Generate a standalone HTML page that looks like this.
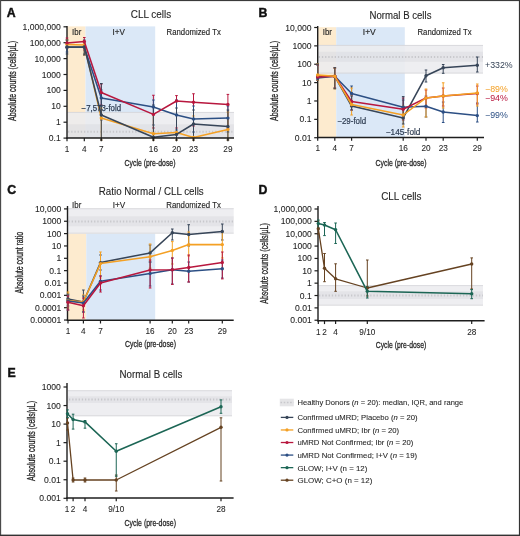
<!DOCTYPE html>
<html><head><meta charset="utf-8"><style>
html,body{margin:0;padding:0;background:#fff;width:520px;height:536px;overflow:hidden}
svg{display:block;will-change:transform}
text{font-family:"Liberation Sans", sans-serif}
</style></head><body>
<svg width="520" height="536" viewBox="0 0 520 536" font-family='"Liberation Sans", sans-serif'>
<rect x="0" y="0" width="520" height="536" fill="#ffffff" />
<rect x="67" y="26.4" width="18.5" height="111.6" fill="#fdebcf" />
<rect x="85.5" y="26.4" width="69.69999999999999" height="111.6" fill="#dbe8f7" />
<rect x="67" y="112" width="167" height="26" fill="rgba(236,236,239,0.88)" />
<rect x="67" y="124.3" width="167" height="13.200000000000003" fill="rgba(200,200,206,0.25)" />
<line x1="67" y1="112.4" x2="234" y2="112.4" stroke="rgba(190,190,196,0.55)" stroke-width="0.8" />
<line x1="67" y1="137.6" x2="234" y2="137.6" stroke="rgba(190,190,196,0.55)" stroke-width="0.8" />
<line x1="68" y1="131.8" x2="234" y2="131.8" stroke="#c8c8cc" stroke-width="2.0" stroke-dasharray="1.3 1.9"/>
<text x="76.7" y="35.3" font-size="8.6" text-anchor="middle" fill="#262626" stroke="#262626" stroke-width="0.15" font-weight="normal" textLength="9.2" lengthAdjust="spacingAndGlyphs" >Ibr</text>
<text x="118.7" y="35.2" font-size="9.0" text-anchor="middle" fill="#262626" stroke="#262626" stroke-width="0.15" font-weight="normal" textLength="12.4" lengthAdjust="spacingAndGlyphs" >I+V</text>
<text x="193.7" y="35.2" font-size="8.6" text-anchor="middle" fill="#262626" stroke="#262626" stroke-width="0.15" font-weight="normal" textLength="54.3" lengthAdjust="spacingAndGlyphs" >Randomized Tx</text>
<line x1="67" y1="26" x2="67" y2="138.7" stroke="#1e1e1e" stroke-width="1.4" />
<line x1="63.5" y1="26.8" x2="67" y2="26.8" stroke="#1e1e1e" stroke-width="1.2" />
<text x="60.8" y="29.8" font-size="8.6" text-anchor="end" fill="#262626" stroke="#262626" stroke-width="0.08" font-weight="normal" >1,000,000</text>
<line x1="63.5" y1="42.7" x2="67" y2="42.7" stroke="#1e1e1e" stroke-width="1.2" />
<text x="60.8" y="45.7" font-size="8.6" text-anchor="end" fill="#262626" stroke="#262626" stroke-width="0.08" font-weight="normal" >100,000</text>
<line x1="63.5" y1="58.6" x2="67" y2="58.6" stroke="#1e1e1e" stroke-width="1.2" />
<text x="60.8" y="61.6" font-size="8.6" text-anchor="end" fill="#262626" stroke="#262626" stroke-width="0.08" font-weight="normal" >10,000</text>
<line x1="63.5" y1="74.5" x2="67" y2="74.5" stroke="#1e1e1e" stroke-width="1.2" />
<text x="60.8" y="77.5" font-size="8.6" text-anchor="end" fill="#262626" stroke="#262626" stroke-width="0.08" font-weight="normal" >1000</text>
<line x1="63.5" y1="90.4" x2="67" y2="90.4" stroke="#1e1e1e" stroke-width="1.2" />
<text x="60.8" y="93.4" font-size="8.6" text-anchor="end" fill="#262626" stroke="#262626" stroke-width="0.08" font-weight="normal" >100</text>
<line x1="63.5" y1="106.3" x2="67" y2="106.3" stroke="#1e1e1e" stroke-width="1.2" />
<text x="60.8" y="109.3" font-size="8.6" text-anchor="end" fill="#262626" stroke="#262626" stroke-width="0.08" font-weight="normal" >10</text>
<line x1="63.5" y1="122.2" x2="67" y2="122.2" stroke="#1e1e1e" stroke-width="1.2" />
<text x="60.8" y="125.2" font-size="8.6" text-anchor="end" fill="#262626" stroke="#262626" stroke-width="0.08" font-weight="normal" >1</text>
<line x1="63.5" y1="138.1" x2="67" y2="138.1" stroke="#1e1e1e" stroke-width="1.2" />
<text x="60.8" y="141.1" font-size="8.6" text-anchor="end" fill="#262626" stroke="#262626" stroke-width="0.08" font-weight="normal" >0.1</text>
<line x1="67" y1="38" x2="67" y2="48" stroke="#b8173e" stroke-width="1.0" />
<line x1="65.7" y1="38" x2="68.3" y2="38" stroke="#b8173e" stroke-width="1.0" />
<line x1="65.7" y1="48" x2="68.3" y2="48" stroke="#b8173e" stroke-width="1.0" />
<line x1="84.3" y1="37.5" x2="84.3" y2="50" stroke="#b8173e" stroke-width="1.0" />
<line x1="83.0" y1="37.5" x2="85.6" y2="37.5" stroke="#b8173e" stroke-width="1.0" />
<line x1="83.0" y1="50" x2="85.6" y2="50" stroke="#b8173e" stroke-width="1.0" />
<line x1="101.3" y1="84" x2="101.3" y2="105" stroke="#b8173e" stroke-width="1.0" />
<line x1="100.0" y1="84" x2="102.6" y2="84" stroke="#b8173e" stroke-width="1.0" />
<line x1="100.0" y1="105" x2="102.6" y2="105" stroke="#b8173e" stroke-width="1.0" />
<line x1="153.4" y1="95.25" x2="153.4" y2="128" stroke="#b8173e" stroke-width="1.0" />
<line x1="152.1" y1="95.25" x2="154.70000000000002" y2="95.25" stroke="#b8173e" stroke-width="1.0" />
<line x1="152.1" y1="128" x2="154.70000000000002" y2="128" stroke="#b8173e" stroke-width="1.0" />
<line x1="176.5" y1="95.6" x2="176.5" y2="128" stroke="#b8173e" stroke-width="1.0" />
<line x1="175.2" y1="95.6" x2="177.8" y2="95.6" stroke="#b8173e" stroke-width="1.0" />
<line x1="175.2" y1="128" x2="177.8" y2="128" stroke="#b8173e" stroke-width="1.0" />
<line x1="193.5" y1="93.75" x2="193.5" y2="126" stroke="#b8173e" stroke-width="1.0" />
<line x1="192.2" y1="93.75" x2="194.8" y2="93.75" stroke="#b8173e" stroke-width="1.0" />
<line x1="192.2" y1="126" x2="194.8" y2="126" stroke="#b8173e" stroke-width="1.0" />
<line x1="227.9" y1="94.4" x2="227.9" y2="128" stroke="#b8173e" stroke-width="1.0" />
<line x1="226.6" y1="94.4" x2="229.20000000000002" y2="94.4" stroke="#b8173e" stroke-width="1.0" />
<line x1="226.6" y1="128" x2="229.20000000000002" y2="128" stroke="#b8173e" stroke-width="1.0" />
<line x1="67" y1="40" x2="67" y2="52" stroke="#2c4f84" stroke-width="1.0" />
<line x1="65.7" y1="40" x2="68.3" y2="40" stroke="#2c4f84" stroke-width="1.0" />
<line x1="65.7" y1="52" x2="68.3" y2="52" stroke="#2c4f84" stroke-width="1.0" />
<line x1="84.3" y1="40" x2="84.3" y2="54" stroke="#2c4f84" stroke-width="1.0" />
<line x1="83.0" y1="40" x2="85.6" y2="40" stroke="#2c4f84" stroke-width="1.0" />
<line x1="83.0" y1="54" x2="85.6" y2="54" stroke="#2c4f84" stroke-width="1.0" />
<line x1="101.3" y1="90" x2="101.3" y2="120" stroke="#2c4f84" stroke-width="1.0" />
<line x1="100.0" y1="90" x2="102.6" y2="90" stroke="#2c4f84" stroke-width="1.0" />
<line x1="100.0" y1="120" x2="102.6" y2="120" stroke="#2c4f84" stroke-width="1.0" />
<line x1="153.4" y1="100" x2="153.4" y2="125" stroke="#2c4f84" stroke-width="1.0" />
<line x1="152.1" y1="100" x2="154.70000000000002" y2="100" stroke="#2c4f84" stroke-width="1.0" />
<line x1="152.1" y1="125" x2="154.70000000000002" y2="125" stroke="#2c4f84" stroke-width="1.0" />
<line x1="176.5" y1="100" x2="176.5" y2="130" stroke="#2c4f84" stroke-width="1.0" />
<line x1="175.2" y1="100" x2="177.8" y2="100" stroke="#2c4f84" stroke-width="1.0" />
<line x1="175.2" y1="130" x2="177.8" y2="130" stroke="#2c4f84" stroke-width="1.0" />
<line x1="193.5" y1="106" x2="193.5" y2="132" stroke="#2c4f84" stroke-width="1.0" />
<line x1="192.2" y1="106" x2="194.8" y2="106" stroke="#2c4f84" stroke-width="1.0" />
<line x1="192.2" y1="132" x2="194.8" y2="132" stroke="#2c4f84" stroke-width="1.0" />
<line x1="227.9" y1="106" x2="227.9" y2="132" stroke="#2c4f84" stroke-width="1.0" />
<line x1="226.6" y1="106" x2="229.20000000000002" y2="106" stroke="#2c4f84" stroke-width="1.0" />
<line x1="226.6" y1="132" x2="229.20000000000002" y2="132" stroke="#2c4f84" stroke-width="1.0" />
<line x1="67" y1="40" x2="67" y2="48" stroke="#f4a024" stroke-width="1.0" />
<line x1="65.7" y1="40" x2="68.3" y2="40" stroke="#f4a024" stroke-width="1.0" />
<line x1="65.7" y1="48" x2="68.3" y2="48" stroke="#f4a024" stroke-width="1.0" />
<line x1="84.3" y1="44" x2="84.3" y2="55" stroke="#f4a024" stroke-width="1.0" />
<line x1="83.0" y1="44" x2="85.6" y2="44" stroke="#f4a024" stroke-width="1.0" />
<line x1="83.0" y1="55" x2="85.6" y2="55" stroke="#f4a024" stroke-width="1.0" />
<line x1="101.3" y1="108" x2="101.3" y2="140" stroke="#f4a024" stroke-width="1.0" />
<line x1="100.0" y1="108" x2="102.6" y2="108" stroke="#f4a024" stroke-width="1.0" />
<line x1="100.0" y1="140" x2="102.6" y2="140" stroke="#f4a024" stroke-width="1.0" />
<line x1="153.4" y1="114" x2="153.4" y2="140" stroke="#f4a024" stroke-width="1.0" />
<line x1="152.1" y1="114" x2="154.70000000000002" y2="114" stroke="#f4a024" stroke-width="1.0" />
<line x1="152.1" y1="140" x2="154.70000000000002" y2="140" stroke="#f4a024" stroke-width="1.0" />
<line x1="176.5" y1="114.6" x2="176.5" y2="140" stroke="#f4a024" stroke-width="1.0" />
<line x1="175.2" y1="114.6" x2="177.8" y2="114.6" stroke="#f4a024" stroke-width="1.0" />
<line x1="175.2" y1="140" x2="177.8" y2="140" stroke="#f4a024" stroke-width="1.0" />
<line x1="193.5" y1="116" x2="193.5" y2="140" stroke="#f4a024" stroke-width="1.0" />
<line x1="192.2" y1="116" x2="194.8" y2="116" stroke="#f4a024" stroke-width="1.0" />
<line x1="192.2" y1="140" x2="194.8" y2="140" stroke="#f4a024" stroke-width="1.0" />
<line x1="227.9" y1="112" x2="227.9" y2="140" stroke="#f4a024" stroke-width="1.0" />
<line x1="226.6" y1="112" x2="229.20000000000002" y2="112" stroke="#f4a024" stroke-width="1.0" />
<line x1="226.6" y1="140" x2="229.20000000000002" y2="140" stroke="#f4a024" stroke-width="1.0" />
<line x1="67" y1="40" x2="67" y2="54" stroke="#374558" stroke-width="1.0" />
<line x1="65.7" y1="40" x2="68.3" y2="40" stroke="#374558" stroke-width="1.0" />
<line x1="65.7" y1="54" x2="68.3" y2="54" stroke="#374558" stroke-width="1.0" />
<line x1="84.3" y1="42" x2="84.3" y2="55" stroke="#374558" stroke-width="1.0" />
<line x1="83.0" y1="42" x2="85.6" y2="42" stroke="#374558" stroke-width="1.0" />
<line x1="83.0" y1="55" x2="85.6" y2="55" stroke="#374558" stroke-width="1.0" />
<line x1="101.3" y1="83.5" x2="101.3" y2="140" stroke="#374558" stroke-width="1.0" />
<line x1="100.0" y1="83.5" x2="102.6" y2="83.5" stroke="#374558" stroke-width="1.0" />
<line x1="100.0" y1="140" x2="102.6" y2="140" stroke="#374558" stroke-width="1.0" />
<line x1="153.4" y1="105" x2="153.4" y2="140" stroke="#374558" stroke-width="1.0" />
<line x1="152.1" y1="105" x2="154.70000000000002" y2="105" stroke="#374558" stroke-width="1.0" />
<line x1="152.1" y1="140" x2="154.70000000000002" y2="140" stroke="#374558" stroke-width="1.0" />
<line x1="176.5" y1="108" x2="176.5" y2="140" stroke="#374558" stroke-width="1.0" />
<line x1="175.2" y1="108" x2="177.8" y2="108" stroke="#374558" stroke-width="1.0" />
<line x1="175.2" y1="140" x2="177.8" y2="140" stroke="#374558" stroke-width="1.0" />
<line x1="193.5" y1="110" x2="193.5" y2="140" stroke="#374558" stroke-width="1.0" />
<line x1="192.2" y1="110" x2="194.8" y2="110" stroke="#374558" stroke-width="1.0" />
<line x1="192.2" y1="140" x2="194.8" y2="140" stroke="#374558" stroke-width="1.0" />
<line x1="227.9" y1="110" x2="227.9" y2="140" stroke="#374558" stroke-width="1.0" />
<line x1="226.6" y1="110" x2="229.20000000000002" y2="110" stroke="#374558" stroke-width="1.0" />
<line x1="226.6" y1="140" x2="229.20000000000002" y2="140" stroke="#374558" stroke-width="1.0" />
<polyline points="67,44.4 84.3,45 101.3,118.1 153.4,133.75 176.5,132.5 193.5,137.5 227.9,129.4" fill="none" stroke="#f4a024" stroke-width="1.55" stroke-linejoin="round"/>
<circle cx="67" cy="44.4" r="1.7" fill="#f4a024"/>
<circle cx="84.3" cy="45" r="1.7" fill="#f4a024"/>
<circle cx="101.3" cy="118.1" r="1.7" fill="#f4a024"/>
<circle cx="153.4" cy="133.75" r="1.7" fill="#f4a024"/>
<circle cx="176.5" cy="132.5" r="1.7" fill="#f4a024"/>
<circle cx="193.5" cy="137.5" r="1.7" fill="#f4a024"/>
<circle cx="227.9" cy="129.4" r="1.7" fill="#f4a024"/>
<polyline points="67,47.2 84.3,47.2 101.3,97.9 153.4,106.9 176.5,115 193.5,119 227.9,118.1" fill="none" stroke="#2c4f84" stroke-width="1.55" stroke-linejoin="round"/>
<circle cx="67" cy="47.2" r="1.7" fill="#2c4f84"/>
<circle cx="84.3" cy="47.2" r="1.7" fill="#2c4f84"/>
<circle cx="101.3" cy="97.9" r="1.7" fill="#2c4f84"/>
<circle cx="153.4" cy="106.9" r="1.7" fill="#2c4f84"/>
<circle cx="176.5" cy="115" r="1.7" fill="#2c4f84"/>
<circle cx="193.5" cy="119" r="1.7" fill="#2c4f84"/>
<circle cx="227.9" cy="118.1" r="1.7" fill="#2c4f84"/>
<polyline points="67,46.9 84.3,46.9 101.3,115 153.4,137.3 176.5,134.4 193.5,124 227.9,126.5" fill="none" stroke="#374558" stroke-width="1.55" stroke-linejoin="round"/>
<circle cx="67" cy="46.9" r="1.7" fill="#374558"/>
<circle cx="84.3" cy="46.9" r="1.7" fill="#374558"/>
<circle cx="101.3" cy="115" r="1.7" fill="#374558"/>
<circle cx="153.4" cy="137.3" r="1.7" fill="#374558"/>
<circle cx="176.5" cy="134.4" r="1.7" fill="#374558"/>
<circle cx="193.5" cy="124" r="1.7" fill="#374558"/>
<circle cx="227.9" cy="126.5" r="1.7" fill="#374558"/>
<polyline points="67,42.9 84.3,41.5 101.3,92.5 153.4,114.4 176.5,101 193.5,102.25 227.9,104.4" fill="none" stroke="#b8173e" stroke-width="1.55" stroke-linejoin="round"/>
<circle cx="67" cy="42.9" r="1.7" fill="#b8173e"/>
<circle cx="84.3" cy="41.5" r="1.7" fill="#b8173e"/>
<circle cx="101.3" cy="92.5" r="1.7" fill="#b8173e"/>
<circle cx="153.4" cy="114.4" r="1.7" fill="#b8173e"/>
<circle cx="176.5" cy="101" r="1.7" fill="#b8173e"/>
<circle cx="193.5" cy="102.25" r="1.7" fill="#b8173e"/>
<circle cx="227.9" cy="104.4" r="1.7" fill="#b8173e"/>
<line x1="66.3" y1="138" x2="234" y2="138" stroke="#1e1e1e" stroke-width="1.4" />
<line x1="67" y1="138" x2="67" y2="141.3" stroke="#1e1e1e" stroke-width="1.2" />
<text x="67" y="151.9" font-size="8.2" text-anchor="middle" fill="#262626" stroke="#262626" stroke-width="0.08" font-weight="normal" >1</text>
<line x1="84.3" y1="138" x2="84.3" y2="141.3" stroke="#1e1e1e" stroke-width="1.2" />
<text x="84.3" y="151.9" font-size="8.2" text-anchor="middle" fill="#262626" stroke="#262626" stroke-width="0.08" font-weight="normal" >4</text>
<line x1="101.3" y1="138" x2="101.3" y2="141.3" stroke="#1e1e1e" stroke-width="1.2" />
<text x="101.3" y="151.9" font-size="8.2" text-anchor="middle" fill="#262626" stroke="#262626" stroke-width="0.08" font-weight="normal" >7</text>
<line x1="153.4" y1="138" x2="153.4" y2="141.3" stroke="#1e1e1e" stroke-width="1.2" />
<text x="153.4" y="151.9" font-size="8.2" text-anchor="middle" fill="#262626" stroke="#262626" stroke-width="0.08" font-weight="normal" >16</text>
<line x1="176.5" y1="138" x2="176.5" y2="141.3" stroke="#1e1e1e" stroke-width="1.2" />
<text x="176.5" y="151.9" font-size="8.2" text-anchor="middle" fill="#262626" stroke="#262626" stroke-width="0.08" font-weight="normal" >20</text>
<line x1="193.5" y1="138" x2="193.5" y2="141.3" stroke="#1e1e1e" stroke-width="1.2" />
<text x="193.5" y="151.9" font-size="8.2" text-anchor="middle" fill="#262626" stroke="#262626" stroke-width="0.08" font-weight="normal" >23</text>
<line x1="227.9" y1="138" x2="227.9" y2="141.3" stroke="#1e1e1e" stroke-width="1.2" />
<text x="227.9" y="151.9" font-size="8.2" text-anchor="middle" fill="#262626" stroke="#262626" stroke-width="0.08" font-weight="normal" >29</text>
<text x="101.3" y="111.2" font-size="8.5" text-anchor="middle" fill="#2f3d52" stroke="#2f3d52" stroke-width="0.25" font-weight="normal" textLength="39.5" lengthAdjust="spacingAndGlyphs" >−7,573-fold</text>
<text x="150" y="165.5" font-size="9.9" text-anchor="middle" fill="#262626" stroke="#262626" stroke-width="0.3" font-weight="normal" textLength="51" lengthAdjust="spacingAndGlyphs" >Cycle (pre-dose)</text>
<text x="16.3" y="81" font-size="10.4" text-anchor="middle" fill="#262626" stroke="#262626" stroke-width="0.3" font-weight="normal" textLength="80" lengthAdjust="spacingAndGlyphs" transform="rotate(-90 16.3 81)">Absolute counts (cells/μL)</text>
<text x="151" y="17.9" font-size="10.2" text-anchor="middle" fill="#262626" stroke="#262626" stroke-width="0.1" font-weight="normal" textLength="40.4" lengthAdjust="spacingAndGlyphs" >CLL cells</text>
<text x="6.8" y="17.3" font-size="12.3" text-anchor="start" fill="#111" stroke="#111" stroke-width="0.45" font-weight="bold" >A</text>
<rect x="317.7" y="27.2" width="18.5" height="110.3" fill="#fdebcf" />
<rect x="336.2" y="27.2" width="68.60000000000002" height="110.3" fill="#dbe8f7" />
<rect x="317.7" y="45" width="165.3" height="28.5" fill="rgba(236,236,239,0.88)" />
<rect x="317.7" y="51.8" width="165.3" height="10.0" fill="rgba(200,200,206,0.25)" />
<line x1="317.7" y1="45.4" x2="483" y2="45.4" stroke="rgba(190,190,196,0.55)" stroke-width="0.8" />
<line x1="317.7" y1="73.1" x2="483" y2="73.1" stroke="rgba(190,190,196,0.55)" stroke-width="0.8" />
<line x1="318.7" y1="57" x2="483" y2="57" stroke="#c8c8cc" stroke-width="2.0" stroke-dasharray="1.3 1.9"/>
<text x="327.4" y="35.3" font-size="8.6" text-anchor="middle" fill="#262626" stroke="#262626" stroke-width="0.15" font-weight="normal" textLength="9.2" lengthAdjust="spacingAndGlyphs" >Ibr</text>
<text x="369.3" y="35.0" font-size="9.0" text-anchor="middle" fill="#262626" stroke="#262626" stroke-width="0.15" font-weight="normal" textLength="13" lengthAdjust="spacingAndGlyphs" >I+V</text>
<text x="444.5" y="35.2" font-size="8.6" text-anchor="middle" fill="#262626" stroke="#262626" stroke-width="0.15" font-weight="normal" textLength="54" lengthAdjust="spacingAndGlyphs" >Randomized Tx</text>
<line x1="317.7" y1="26" x2="317.7" y2="138.2" stroke="#1e1e1e" stroke-width="1.4" />
<line x1="314.2" y1="27.5" x2="317.7" y2="27.5" stroke="#1e1e1e" stroke-width="1.2" />
<text x="311.5" y="30.5" font-size="8.6" text-anchor="end" fill="#262626" stroke="#262626" stroke-width="0.08" font-weight="normal" >10,000</text>
<line x1="314.2" y1="45.87" x2="317.7" y2="45.87" stroke="#1e1e1e" stroke-width="1.2" />
<text x="311.5" y="48.87" font-size="8.6" text-anchor="end" fill="#262626" stroke="#262626" stroke-width="0.08" font-weight="normal" >1000</text>
<line x1="314.2" y1="64.24" x2="317.7" y2="64.24" stroke="#1e1e1e" stroke-width="1.2" />
<text x="311.5" y="67.24" font-size="8.6" text-anchor="end" fill="#262626" stroke="#262626" stroke-width="0.08" font-weight="normal" >100</text>
<line x1="314.2" y1="82.61" x2="317.7" y2="82.61" stroke="#1e1e1e" stroke-width="1.2" />
<text x="311.5" y="85.61" font-size="8.6" text-anchor="end" fill="#262626" stroke="#262626" stroke-width="0.08" font-weight="normal" >10</text>
<line x1="314.2" y1="100.98" x2="317.7" y2="100.98" stroke="#1e1e1e" stroke-width="1.2" />
<text x="311.5" y="103.98" font-size="8.6" text-anchor="end" fill="#262626" stroke="#262626" stroke-width="0.08" font-weight="normal" >1</text>
<line x1="314.2" y1="119.35" x2="317.7" y2="119.35" stroke="#1e1e1e" stroke-width="1.2" />
<text x="311.5" y="122.35" font-size="8.6" text-anchor="end" fill="#262626" stroke="#262626" stroke-width="0.08" font-weight="normal" >0.1</text>
<line x1="314.2" y1="137.72" x2="317.7" y2="137.72" stroke="#1e1e1e" stroke-width="1.2" />
<text x="311.5" y="140.72" font-size="8.6" text-anchor="end" fill="#262626" stroke="#262626" stroke-width="0.08" font-weight="normal" >0.01</text>
<line x1="317.7" y1="65" x2="317.7" y2="80" stroke="#2c4f84" stroke-width="1.0" />
<line x1="316.4" y1="65" x2="319.0" y2="65" stroke="#2c4f84" stroke-width="1.0" />
<line x1="316.4" y1="80" x2="319.0" y2="80" stroke="#2c4f84" stroke-width="1.0" />
<line x1="334.8" y1="68" x2="334.8" y2="88" stroke="#2c4f84" stroke-width="1.0" />
<line x1="333.5" y1="68" x2="336.1" y2="68" stroke="#2c4f84" stroke-width="1.0" />
<line x1="333.5" y1="88" x2="336.1" y2="88" stroke="#2c4f84" stroke-width="1.0" />
<line x1="351.6" y1="86" x2="351.6" y2="102" stroke="#2c4f84" stroke-width="1.0" />
<line x1="350.3" y1="86" x2="352.90000000000003" y2="86" stroke="#2c4f84" stroke-width="1.0" />
<line x1="350.3" y1="102" x2="352.90000000000003" y2="102" stroke="#2c4f84" stroke-width="1.0" />
<line x1="403.2" y1="100" x2="403.2" y2="118" stroke="#2c4f84" stroke-width="1.0" />
<line x1="401.9" y1="100" x2="404.5" y2="100" stroke="#2c4f84" stroke-width="1.0" />
<line x1="401.9" y1="118" x2="404.5" y2="118" stroke="#2c4f84" stroke-width="1.0" />
<line x1="426" y1="96" x2="426" y2="117" stroke="#2c4f84" stroke-width="1.0" />
<line x1="424.7" y1="96" x2="427.3" y2="96" stroke="#2c4f84" stroke-width="1.0" />
<line x1="424.7" y1="117" x2="427.3" y2="117" stroke="#2c4f84" stroke-width="1.0" />
<line x1="443.2" y1="102" x2="443.2" y2="122.5" stroke="#2c4f84" stroke-width="1.0" />
<line x1="441.9" y1="102" x2="444.5" y2="102" stroke="#2c4f84" stroke-width="1.0" />
<line x1="441.9" y1="122.5" x2="444.5" y2="122.5" stroke="#2c4f84" stroke-width="1.0" />
<line x1="477.3" y1="103" x2="477.3" y2="122" stroke="#2c4f84" stroke-width="1.0" />
<line x1="476.0" y1="103" x2="478.6" y2="103" stroke="#2c4f84" stroke-width="1.0" />
<line x1="476.0" y1="122" x2="478.6" y2="122" stroke="#2c4f84" stroke-width="1.0" />
<line x1="317.7" y1="65" x2="317.7" y2="80" stroke="#b8173e" stroke-width="1.0" />
<line x1="316.4" y1="65" x2="319.0" y2="65" stroke="#b8173e" stroke-width="1.0" />
<line x1="316.4" y1="80" x2="319.0" y2="80" stroke="#b8173e" stroke-width="1.0" />
<line x1="334.8" y1="68" x2="334.8" y2="88" stroke="#b8173e" stroke-width="1.0" />
<line x1="333.5" y1="68" x2="336.1" y2="68" stroke="#b8173e" stroke-width="1.0" />
<line x1="333.5" y1="88" x2="336.1" y2="88" stroke="#b8173e" stroke-width="1.0" />
<line x1="351.6" y1="95" x2="351.6" y2="110" stroke="#b8173e" stroke-width="1.0" />
<line x1="350.3" y1="95" x2="352.90000000000003" y2="95" stroke="#b8173e" stroke-width="1.0" />
<line x1="350.3" y1="110" x2="352.90000000000003" y2="110" stroke="#b8173e" stroke-width="1.0" />
<line x1="403.2" y1="98" x2="403.2" y2="120" stroke="#b8173e" stroke-width="1.0" />
<line x1="401.9" y1="98" x2="404.5" y2="98" stroke="#b8173e" stroke-width="1.0" />
<line x1="401.9" y1="120" x2="404.5" y2="120" stroke="#b8173e" stroke-width="1.0" />
<line x1="426" y1="90" x2="426" y2="108" stroke="#b8173e" stroke-width="1.0" />
<line x1="424.7" y1="90" x2="427.3" y2="90" stroke="#b8173e" stroke-width="1.0" />
<line x1="424.7" y1="108" x2="427.3" y2="108" stroke="#b8173e" stroke-width="1.0" />
<line x1="443.2" y1="88" x2="443.2" y2="106" stroke="#b8173e" stroke-width="1.0" />
<line x1="441.9" y1="88" x2="444.5" y2="88" stroke="#b8173e" stroke-width="1.0" />
<line x1="441.9" y1="106" x2="444.5" y2="106" stroke="#b8173e" stroke-width="1.0" />
<line x1="477.3" y1="86" x2="477.3" y2="104" stroke="#b8173e" stroke-width="1.0" />
<line x1="476.0" y1="86" x2="478.6" y2="86" stroke="#b8173e" stroke-width="1.0" />
<line x1="476.0" y1="104" x2="478.6" y2="104" stroke="#b8173e" stroke-width="1.0" />
<line x1="317.7" y1="63.8" x2="317.7" y2="80.2" stroke="#f4a024" stroke-width="1.0" />
<line x1="316.4" y1="63.8" x2="319.0" y2="63.8" stroke="#f4a024" stroke-width="1.0" />
<line x1="316.4" y1="80.2" x2="319.0" y2="80.2" stroke="#f4a024" stroke-width="1.0" />
<line x1="334.8" y1="68" x2="334.8" y2="88.8" stroke="#f4a024" stroke-width="1.0" />
<line x1="333.5" y1="68" x2="336.1" y2="68" stroke="#f4a024" stroke-width="1.0" />
<line x1="333.5" y1="88.8" x2="336.1" y2="88.8" stroke="#f4a024" stroke-width="1.0" />
<line x1="351.6" y1="88" x2="351.6" y2="115" stroke="#f4a024" stroke-width="1.0" />
<line x1="350.3" y1="88" x2="352.90000000000003" y2="88" stroke="#f4a024" stroke-width="1.0" />
<line x1="350.3" y1="115" x2="352.90000000000003" y2="115" stroke="#f4a024" stroke-width="1.0" />
<line x1="403.2" y1="106" x2="403.2" y2="127" stroke="#f4a024" stroke-width="1.0" />
<line x1="401.9" y1="106" x2="404.5" y2="106" stroke="#f4a024" stroke-width="1.0" />
<line x1="401.9" y1="127" x2="404.5" y2="127" stroke="#f4a024" stroke-width="1.0" />
<line x1="426" y1="89" x2="426" y2="117" stroke="#f4a024" stroke-width="1.0" />
<line x1="424.7" y1="89" x2="427.3" y2="89" stroke="#f4a024" stroke-width="1.0" />
<line x1="424.7" y1="117" x2="427.3" y2="117" stroke="#f4a024" stroke-width="1.0" />
<line x1="443.2" y1="82.8" x2="443.2" y2="108" stroke="#f4a024" stroke-width="1.0" />
<line x1="441.9" y1="82.8" x2="444.5" y2="82.8" stroke="#f4a024" stroke-width="1.0" />
<line x1="441.9" y1="108" x2="444.5" y2="108" stroke="#f4a024" stroke-width="1.0" />
<line x1="477.3" y1="84" x2="477.3" y2="106" stroke="#f4a024" stroke-width="1.0" />
<line x1="476.0" y1="84" x2="478.6" y2="84" stroke="#f4a024" stroke-width="1.0" />
<line x1="476.0" y1="106" x2="478.6" y2="106" stroke="#f4a024" stroke-width="1.0" />
<line x1="317.7" y1="64" x2="317.7" y2="80" stroke="#374558" stroke-width="1.0" />
<line x1="316.4" y1="64" x2="319.0" y2="64" stroke="#374558" stroke-width="1.0" />
<line x1="316.4" y1="80" x2="319.0" y2="80" stroke="#374558" stroke-width="1.0" />
<line x1="334.8" y1="67.7" x2="334.8" y2="88.8" stroke="#374558" stroke-width="1.0" />
<line x1="333.5" y1="67.7" x2="336.1" y2="67.7" stroke="#374558" stroke-width="1.0" />
<line x1="333.5" y1="88.8" x2="336.1" y2="88.8" stroke="#374558" stroke-width="1.0" />
<line x1="351.6" y1="96" x2="351.6" y2="110" stroke="#374558" stroke-width="1.0" />
<line x1="350.3" y1="96" x2="352.90000000000003" y2="96" stroke="#374558" stroke-width="1.0" />
<line x1="350.3" y1="110" x2="352.90000000000003" y2="110" stroke="#374558" stroke-width="1.0" />
<line x1="403.2" y1="96.6" x2="403.2" y2="124" stroke="#374558" stroke-width="1.0" />
<line x1="401.9" y1="96.6" x2="404.5" y2="96.6" stroke="#374558" stroke-width="1.0" />
<line x1="401.9" y1="124" x2="404.5" y2="124" stroke="#374558" stroke-width="1.0" />
<line x1="426" y1="70" x2="426" y2="82" stroke="#374558" stroke-width="1.0" />
<line x1="424.7" y1="70" x2="427.3" y2="70" stroke="#374558" stroke-width="1.0" />
<line x1="424.7" y1="82" x2="427.3" y2="82" stroke="#374558" stroke-width="1.0" />
<line x1="443.2" y1="64.5" x2="443.2" y2="73.3" stroke="#374558" stroke-width="1.0" />
<line x1="441.9" y1="64.5" x2="444.5" y2="64.5" stroke="#374558" stroke-width="1.0" />
<line x1="441.9" y1="73.3" x2="444.5" y2="73.3" stroke="#374558" stroke-width="1.0" />
<line x1="477.3" y1="57" x2="477.3" y2="72" stroke="#374558" stroke-width="1.0" />
<line x1="476.0" y1="57" x2="478.6" y2="57" stroke="#374558" stroke-width="1.0" />
<line x1="476.0" y1="72" x2="478.6" y2="72" stroke="#374558" stroke-width="1.0" />
<polyline points="317.7,76 334.8,76.3 351.6,106 403.2,117.9 426,75.8 443.2,67.7 477.3,65.2" fill="none" stroke="#374558" stroke-width="1.55" stroke-linejoin="round"/>
<circle cx="317.7" cy="76" r="1.7" fill="#374558"/>
<circle cx="334.8" cy="76.3" r="1.7" fill="#374558"/>
<circle cx="351.6" cy="106" r="1.7" fill="#374558"/>
<circle cx="403.2" cy="117.9" r="1.7" fill="#374558"/>
<circle cx="426" cy="75.8" r="1.7" fill="#374558"/>
<circle cx="443.2" cy="67.7" r="1.7" fill="#374558"/>
<circle cx="477.3" cy="65.2" r="1.7" fill="#374558"/>
<polyline points="317.7,78 334.8,76.3 351.6,93.5 403.2,107.3 426,106.2 443.2,112 477.3,115.6" fill="none" stroke="#2c4f84" stroke-width="1.55" stroke-linejoin="round"/>
<circle cx="317.7" cy="78" r="1.7" fill="#2c4f84"/>
<circle cx="334.8" cy="76.3" r="1.7" fill="#2c4f84"/>
<circle cx="351.6" cy="93.5" r="1.7" fill="#2c4f84"/>
<circle cx="403.2" cy="107.3" r="1.7" fill="#2c4f84"/>
<circle cx="426" cy="106.2" r="1.7" fill="#2c4f84"/>
<circle cx="443.2" cy="112" r="1.7" fill="#2c4f84"/>
<circle cx="477.3" cy="115.6" r="1.7" fill="#2c4f84"/>
<polyline points="317.7,77 334.8,76.3 351.6,101.5 403.2,109.2 426,97.9 443.2,96 477.3,93.5" fill="none" stroke="#b8173e" stroke-width="1.55" stroke-linejoin="round"/>
<circle cx="317.7" cy="77" r="1.7" fill="#b8173e"/>
<circle cx="334.8" cy="76.3" r="1.7" fill="#b8173e"/>
<circle cx="351.6" cy="101.5" r="1.7" fill="#b8173e"/>
<circle cx="403.2" cy="109.2" r="1.7" fill="#b8173e"/>
<circle cx="426" cy="97.9" r="1.7" fill="#b8173e"/>
<circle cx="443.2" cy="96" r="1.7" fill="#b8173e"/>
<circle cx="477.3" cy="93.5" r="1.7" fill="#b8173e"/>
<polyline points="317.7,75 334.8,76.3 351.6,104.5 403.2,115 426,97.9 443.2,96 477.3,93" fill="none" stroke="#f4a024" stroke-width="1.55" stroke-linejoin="round"/>
<circle cx="317.7" cy="75" r="1.7" fill="#f4a024"/>
<circle cx="334.8" cy="76.3" r="1.7" fill="#f4a024"/>
<circle cx="351.6" cy="104.5" r="1.7" fill="#f4a024"/>
<circle cx="403.2" cy="115" r="1.7" fill="#f4a024"/>
<circle cx="426" cy="97.9" r="1.7" fill="#f4a024"/>
<circle cx="443.2" cy="96" r="1.7" fill="#f4a024"/>
<circle cx="477.3" cy="93" r="1.7" fill="#f4a024"/>
<line x1="317.0" y1="137.5" x2="484" y2="137.5" stroke="#1e1e1e" stroke-width="1.4" />
<line x1="317.7" y1="137.5" x2="317.7" y2="140.8" stroke="#1e1e1e" stroke-width="1.2" />
<text x="317.7" y="151.4" font-size="8.2" text-anchor="middle" fill="#262626" stroke="#262626" stroke-width="0.08" font-weight="normal" >1</text>
<line x1="334.8" y1="137.5" x2="334.8" y2="140.8" stroke="#1e1e1e" stroke-width="1.2" />
<text x="334.8" y="151.4" font-size="8.2" text-anchor="middle" fill="#262626" stroke="#262626" stroke-width="0.08" font-weight="normal" >4</text>
<line x1="351.6" y1="137.5" x2="351.6" y2="140.8" stroke="#1e1e1e" stroke-width="1.2" />
<text x="351.6" y="151.4" font-size="8.2" text-anchor="middle" fill="#262626" stroke="#262626" stroke-width="0.08" font-weight="normal" >7</text>
<line x1="403.2" y1="137.5" x2="403.2" y2="140.8" stroke="#1e1e1e" stroke-width="1.2" />
<text x="403.2" y="151.4" font-size="8.2" text-anchor="middle" fill="#262626" stroke="#262626" stroke-width="0.08" font-weight="normal" >16</text>
<line x1="426" y1="137.5" x2="426" y2="140.8" stroke="#1e1e1e" stroke-width="1.2" />
<text x="426" y="151.4" font-size="8.2" text-anchor="middle" fill="#262626" stroke="#262626" stroke-width="0.08" font-weight="normal" >20</text>
<line x1="443.2" y1="137.5" x2="443.2" y2="140.8" stroke="#1e1e1e" stroke-width="1.2" />
<text x="443.2" y="151.4" font-size="8.2" text-anchor="middle" fill="#262626" stroke="#262626" stroke-width="0.08" font-weight="normal" >23</text>
<line x1="477.3" y1="137.5" x2="477.3" y2="140.8" stroke="#1e1e1e" stroke-width="1.2" />
<text x="477.3" y="151.4" font-size="8.2" text-anchor="middle" fill="#262626" stroke="#262626" stroke-width="0.08" font-weight="normal" >29</text>
<text x="337.3" y="124.3" font-size="8.6" text-anchor="start" fill="#2f3d52" stroke="#2f3d52" stroke-width="0.2" font-weight="normal" textLength="28.9" lengthAdjust="spacingAndGlyphs" >−29-fold</text>
<text x="385.8" y="135.0" font-size="8.6" text-anchor="start" fill="#2f3d52" stroke="#2f3d52" stroke-width="0.2" font-weight="normal" textLength="34.6" lengthAdjust="spacingAndGlyphs" >−145-fold</text>
<text x="485" y="68.2" font-size="8.8" text-anchor="start" fill="#374558" stroke="#374558" stroke-width="0" font-weight="normal" >+332%</text>
<text x="485" y="91.7" font-size="8.8" text-anchor="start" fill="#f4a024" stroke="#f4a024" stroke-width="0" font-weight="normal" >−89%</text>
<text x="485" y="100.5" font-size="8.8" text-anchor="start" fill="#b8173e" stroke="#b8173e" stroke-width="0" font-weight="normal" >−94%</text>
<text x="485" y="118.2" font-size="8.8" text-anchor="start" fill="#2c4f84" stroke="#2c4f84" stroke-width="0" font-weight="normal" >−99%</text>
<text x="401" y="165.5" font-size="9.9" text-anchor="middle" fill="#262626" stroke="#262626" stroke-width="0.3" font-weight="normal" textLength="51" lengthAdjust="spacingAndGlyphs" >Cycle (pre-dose)</text>
<text x="278.4" y="81" font-size="10.4" text-anchor="middle" fill="#262626" stroke="#262626" stroke-width="0.3" font-weight="normal" textLength="80" lengthAdjust="spacingAndGlyphs" transform="rotate(-90 278.4 81)">Absolute counts (cells/μL)</text>
<text x="400.5" y="18.7" font-size="10.2" text-anchor="middle" fill="#262626" stroke="#262626" stroke-width="0.1" font-weight="normal" textLength="61.9" lengthAdjust="spacingAndGlyphs" >Normal B cells</text>
<text x="258.6" y="17.3" font-size="12.3" text-anchor="start" fill="#111" stroke="#111" stroke-width="0.45" font-weight="bold" >B</text>
<rect x="67.5" y="233.6" width="18.75" height="86.6" fill="#fdebcf" />
<rect x="86.25" y="233.6" width="68.94999999999999" height="86.6" fill="#dbe8f7" />
<rect x="67.5" y="208.3" width="166.2" height="25.299999999999983" fill="rgba(236,236,239,0.88)" />
<rect x="67.5" y="216.3" width="166.2" height="10.0" fill="rgba(200,200,206,0.25)" />
<line x1="67.5" y1="208.70000000000002" x2="233.7" y2="208.70000000000002" stroke="rgba(190,190,196,0.55)" stroke-width="0.8" />
<line x1="67.5" y1="233.2" x2="233.7" y2="233.2" stroke="rgba(190,190,196,0.55)" stroke-width="0.8" />
<line x1="68.5" y1="221.5" x2="233.7" y2="221.5" stroke="#c8c8cc" stroke-width="2.0" stroke-dasharray="1.3 1.9"/>
<text x="76.7" y="207.6" font-size="8.6" text-anchor="middle" fill="#262626" stroke="#262626" stroke-width="0.15" font-weight="normal" textLength="9.2" lengthAdjust="spacingAndGlyphs" >Ibr</text>
<text x="119" y="207.6" font-size="9.0" text-anchor="middle" fill="#262626" stroke="#262626" stroke-width="0.15" font-weight="normal" textLength="12.5" lengthAdjust="spacingAndGlyphs" >I+V</text>
<text x="193.6" y="207.8" font-size="8.6" text-anchor="middle" fill="#262626" stroke="#262626" stroke-width="0.15" font-weight="normal" textLength="54.7" lengthAdjust="spacingAndGlyphs" >Randomized Tx</text>
<line x1="67.5" y1="206" x2="67.5" y2="320.9" stroke="#1e1e1e" stroke-width="1.4" />
<line x1="64.0" y1="208.9" x2="67.5" y2="208.9" stroke="#1e1e1e" stroke-width="1.2" />
<text x="61.3" y="211.9" font-size="8.6" text-anchor="end" fill="#262626" stroke="#262626" stroke-width="0.08" font-weight="normal" >10,000</text>
<line x1="64.0" y1="221.25" x2="67.5" y2="221.25" stroke="#1e1e1e" stroke-width="1.2" />
<text x="61.3" y="224.25" font-size="8.6" text-anchor="end" fill="#262626" stroke="#262626" stroke-width="0.08" font-weight="normal" >1000</text>
<line x1="64.0" y1="233.6" x2="67.5" y2="233.6" stroke="#1e1e1e" stroke-width="1.2" />
<text x="61.3" y="236.6" font-size="8.6" text-anchor="end" fill="#262626" stroke="#262626" stroke-width="0.08" font-weight="normal" >100</text>
<line x1="64.0" y1="245.95" x2="67.5" y2="245.95" stroke="#1e1e1e" stroke-width="1.2" />
<text x="61.3" y="248.95" font-size="8.6" text-anchor="end" fill="#262626" stroke="#262626" stroke-width="0.08" font-weight="normal" >10</text>
<line x1="64.0" y1="258.3" x2="67.5" y2="258.3" stroke="#1e1e1e" stroke-width="1.2" />
<text x="61.3" y="261.3" font-size="8.6" text-anchor="end" fill="#262626" stroke="#262626" stroke-width="0.08" font-weight="normal" >1</text>
<line x1="64.0" y1="270.65" x2="67.5" y2="270.65" stroke="#1e1e1e" stroke-width="1.2" />
<text x="61.3" y="273.65" font-size="8.6" text-anchor="end" fill="#262626" stroke="#262626" stroke-width="0.08" font-weight="normal" >0.1</text>
<line x1="64.0" y1="283.0" x2="67.5" y2="283.0" stroke="#1e1e1e" stroke-width="1.2" />
<text x="61.3" y="286.0" font-size="8.6" text-anchor="end" fill="#262626" stroke="#262626" stroke-width="0.08" font-weight="normal" >0.01</text>
<line x1="64.0" y1="295.35" x2="67.5" y2="295.35" stroke="#1e1e1e" stroke-width="1.2" />
<text x="61.3" y="298.35" font-size="8.6" text-anchor="end" fill="#262626" stroke="#262626" stroke-width="0.08" font-weight="normal" >0.001</text>
<line x1="64.0" y1="307.7" x2="67.5" y2="307.7" stroke="#1e1e1e" stroke-width="1.2" />
<text x="61.3" y="310.7" font-size="8.6" text-anchor="end" fill="#262626" stroke="#262626" stroke-width="0.08" font-weight="normal" >0.0001</text>
<line x1="64.0" y1="320.05" x2="67.5" y2="320.05" stroke="#1e1e1e" stroke-width="1.2" />
<text x="61.3" y="323.05" font-size="8.6" text-anchor="end" fill="#262626" stroke="#262626" stroke-width="0.08" font-weight="normal" >0.00001</text>
<line x1="68" y1="294" x2="68" y2="306" stroke="#374558" stroke-width="1.0" />
<line x1="66.7" y1="294" x2="69.3" y2="294" stroke="#374558" stroke-width="1.0" />
<line x1="66.7" y1="306" x2="69.3" y2="306" stroke="#374558" stroke-width="1.0" />
<line x1="83.4" y1="290" x2="83.4" y2="312" stroke="#374558" stroke-width="1.0" />
<line x1="82.10000000000001" y1="290" x2="84.7" y2="290" stroke="#374558" stroke-width="1.0" />
<line x1="82.10000000000001" y1="312" x2="84.7" y2="312" stroke="#374558" stroke-width="1.0" />
<line x1="100.5" y1="255" x2="100.5" y2="270" stroke="#374558" stroke-width="1.0" />
<line x1="99.2" y1="255" x2="101.8" y2="255" stroke="#374558" stroke-width="1.0" />
<line x1="99.2" y1="270" x2="101.8" y2="270" stroke="#374558" stroke-width="1.0" />
<line x1="150.1" y1="245" x2="150.1" y2="262" stroke="#374558" stroke-width="1.0" />
<line x1="148.79999999999998" y1="245" x2="151.4" y2="245" stroke="#374558" stroke-width="1.0" />
<line x1="148.79999999999998" y1="262" x2="151.4" y2="262" stroke="#374558" stroke-width="1.0" />
<line x1="172.3" y1="229" x2="172.3" y2="240" stroke="#374558" stroke-width="1.0" />
<line x1="171.0" y1="229" x2="173.60000000000002" y2="229" stroke="#374558" stroke-width="1.0" />
<line x1="171.0" y1="240" x2="173.60000000000002" y2="240" stroke="#374558" stroke-width="1.0" />
<line x1="188.7" y1="224.7" x2="188.7" y2="246" stroke="#374558" stroke-width="1.0" />
<line x1="187.39999999999998" y1="224.7" x2="190.0" y2="224.7" stroke="#374558" stroke-width="1.0" />
<line x1="187.39999999999998" y1="246" x2="190.0" y2="246" stroke="#374558" stroke-width="1.0" />
<line x1="222.3" y1="224" x2="222.3" y2="240" stroke="#374558" stroke-width="1.0" />
<line x1="221.0" y1="224" x2="223.60000000000002" y2="224" stroke="#374558" stroke-width="1.0" />
<line x1="221.0" y1="240" x2="223.60000000000002" y2="240" stroke="#374558" stroke-width="1.0" />
<line x1="68" y1="292" x2="68" y2="308" stroke="#f4a024" stroke-width="1.0" />
<line x1="66.7" y1="292" x2="69.3" y2="292" stroke="#f4a024" stroke-width="1.0" />
<line x1="66.7" y1="308" x2="69.3" y2="308" stroke="#f4a024" stroke-width="1.0" />
<line x1="83.4" y1="295" x2="83.4" y2="310" stroke="#f4a024" stroke-width="1.0" />
<line x1="82.10000000000001" y1="295" x2="84.7" y2="295" stroke="#f4a024" stroke-width="1.0" />
<line x1="82.10000000000001" y1="310" x2="84.7" y2="310" stroke="#f4a024" stroke-width="1.0" />
<line x1="100.5" y1="252" x2="100.5" y2="278" stroke="#f4a024" stroke-width="1.0" />
<line x1="99.2" y1="252" x2="101.8" y2="252" stroke="#f4a024" stroke-width="1.0" />
<line x1="99.2" y1="278" x2="101.8" y2="278" stroke="#f4a024" stroke-width="1.0" />
<line x1="150.1" y1="244" x2="150.1" y2="268" stroke="#f4a024" stroke-width="1.0" />
<line x1="148.79999999999998" y1="244" x2="151.4" y2="244" stroke="#f4a024" stroke-width="1.0" />
<line x1="148.79999999999998" y1="268" x2="151.4" y2="268" stroke="#f4a024" stroke-width="1.0" />
<line x1="172.3" y1="241.6" x2="172.3" y2="264" stroke="#f4a024" stroke-width="1.0" />
<line x1="171.0" y1="241.6" x2="173.60000000000002" y2="241.6" stroke="#f4a024" stroke-width="1.0" />
<line x1="171.0" y1="264" x2="173.60000000000002" y2="264" stroke="#f4a024" stroke-width="1.0" />
<line x1="188.7" y1="232" x2="188.7" y2="256" stroke="#f4a024" stroke-width="1.0" />
<line x1="187.39999999999998" y1="232" x2="190.0" y2="232" stroke="#f4a024" stroke-width="1.0" />
<line x1="187.39999999999998" y1="256" x2="190.0" y2="256" stroke="#f4a024" stroke-width="1.0" />
<line x1="222.3" y1="232" x2="222.3" y2="258" stroke="#f4a024" stroke-width="1.0" />
<line x1="221.0" y1="232" x2="223.60000000000002" y2="232" stroke="#f4a024" stroke-width="1.0" />
<line x1="221.0" y1="258" x2="223.60000000000002" y2="258" stroke="#f4a024" stroke-width="1.0" />
<line x1="68" y1="295" x2="68" y2="310" stroke="#2c4f84" stroke-width="1.0" />
<line x1="66.7" y1="295" x2="69.3" y2="295" stroke="#2c4f84" stroke-width="1.0" />
<line x1="66.7" y1="310" x2="69.3" y2="310" stroke="#2c4f84" stroke-width="1.0" />
<line x1="83.4" y1="296" x2="83.4" y2="312" stroke="#2c4f84" stroke-width="1.0" />
<line x1="82.10000000000001" y1="296" x2="84.7" y2="296" stroke="#2c4f84" stroke-width="1.0" />
<line x1="82.10000000000001" y1="312" x2="84.7" y2="312" stroke="#2c4f84" stroke-width="1.0" />
<line x1="100.5" y1="276" x2="100.5" y2="290" stroke="#2c4f84" stroke-width="1.0" />
<line x1="99.2" y1="276" x2="101.8" y2="276" stroke="#2c4f84" stroke-width="1.0" />
<line x1="99.2" y1="290" x2="101.8" y2="290" stroke="#2c4f84" stroke-width="1.0" />
<line x1="150.1" y1="262" x2="150.1" y2="286" stroke="#2c4f84" stroke-width="1.0" />
<line x1="148.79999999999998" y1="262" x2="151.4" y2="262" stroke="#2c4f84" stroke-width="1.0" />
<line x1="148.79999999999998" y1="286" x2="151.4" y2="286" stroke="#2c4f84" stroke-width="1.0" />
<line x1="172.3" y1="258" x2="172.3" y2="284" stroke="#2c4f84" stroke-width="1.0" />
<line x1="171.0" y1="258" x2="173.60000000000002" y2="258" stroke="#2c4f84" stroke-width="1.0" />
<line x1="171.0" y1="284" x2="173.60000000000002" y2="284" stroke="#2c4f84" stroke-width="1.0" />
<line x1="188.7" y1="262" x2="188.7" y2="282" stroke="#2c4f84" stroke-width="1.0" />
<line x1="187.39999999999998" y1="262" x2="190.0" y2="262" stroke="#2c4f84" stroke-width="1.0" />
<line x1="187.39999999999998" y1="282" x2="190.0" y2="282" stroke="#2c4f84" stroke-width="1.0" />
<line x1="222.3" y1="260" x2="222.3" y2="278" stroke="#2c4f84" stroke-width="1.0" />
<line x1="221.0" y1="260" x2="223.60000000000002" y2="260" stroke="#2c4f84" stroke-width="1.0" />
<line x1="221.0" y1="278" x2="223.60000000000002" y2="278" stroke="#2c4f84" stroke-width="1.0" />
<line x1="68" y1="296" x2="68" y2="310" stroke="#b8173e" stroke-width="1.0" />
<line x1="66.7" y1="296" x2="69.3" y2="296" stroke="#b8173e" stroke-width="1.0" />
<line x1="66.7" y1="310" x2="69.3" y2="310" stroke="#b8173e" stroke-width="1.0" />
<line x1="83.4" y1="298" x2="83.4" y2="318" stroke="#b8173e" stroke-width="1.0" />
<line x1="82.10000000000001" y1="298" x2="84.7" y2="298" stroke="#b8173e" stroke-width="1.0" />
<line x1="82.10000000000001" y1="318" x2="84.7" y2="318" stroke="#b8173e" stroke-width="1.0" />
<line x1="100.5" y1="276" x2="100.5" y2="292" stroke="#b8173e" stroke-width="1.0" />
<line x1="99.2" y1="276" x2="101.8" y2="276" stroke="#b8173e" stroke-width="1.0" />
<line x1="99.2" y1="292" x2="101.8" y2="292" stroke="#b8173e" stroke-width="1.0" />
<line x1="150.1" y1="260" x2="150.1" y2="288" stroke="#b8173e" stroke-width="1.0" />
<line x1="148.79999999999998" y1="260" x2="151.4" y2="260" stroke="#b8173e" stroke-width="1.0" />
<line x1="148.79999999999998" y1="288" x2="151.4" y2="288" stroke="#b8173e" stroke-width="1.0" />
<line x1="172.3" y1="258" x2="172.3" y2="284.4" stroke="#b8173e" stroke-width="1.0" />
<line x1="171.0" y1="258" x2="173.60000000000002" y2="258" stroke="#b8173e" stroke-width="1.0" />
<line x1="171.0" y1="284.4" x2="173.60000000000002" y2="284.4" stroke="#b8173e" stroke-width="1.0" />
<line x1="188.7" y1="255" x2="188.7" y2="282" stroke="#b8173e" stroke-width="1.0" />
<line x1="187.39999999999998" y1="255" x2="190.0" y2="255" stroke="#b8173e" stroke-width="1.0" />
<line x1="187.39999999999998" y1="282" x2="190.0" y2="282" stroke="#b8173e" stroke-width="1.0" />
<line x1="222.3" y1="252" x2="222.3" y2="278.9" stroke="#b8173e" stroke-width="1.0" />
<line x1="221.0" y1="252" x2="223.60000000000002" y2="252" stroke="#b8173e" stroke-width="1.0" />
<line x1="221.0" y1="278.9" x2="223.60000000000002" y2="278.9" stroke="#b8173e" stroke-width="1.0" />
<polyline points="68,299 83.4,302 100.5,262.6 150.1,252.9 172.3,232.8 188.7,234.5 222.3,231.5" fill="none" stroke="#374558" stroke-width="1.55" stroke-linejoin="round"/>
<circle cx="68" cy="299" r="1.7" fill="#374558"/>
<circle cx="83.4" cy="302" r="1.7" fill="#374558"/>
<circle cx="100.5" cy="262.6" r="1.7" fill="#374558"/>
<circle cx="150.1" cy="252.9" r="1.7" fill="#374558"/>
<circle cx="172.3" cy="232.8" r="1.7" fill="#374558"/>
<circle cx="188.7" cy="234.5" r="1.7" fill="#374558"/>
<circle cx="222.3" cy="231.5" r="1.7" fill="#374558"/>
<polyline points="68,300.4 83.4,302 100.5,263.6 150.1,256.7 172.3,250.4 188.7,244.6 222.3,244.6" fill="none" stroke="#f4a024" stroke-width="1.55" stroke-linejoin="round"/>
<circle cx="68" cy="300.4" r="1.7" fill="#f4a024"/>
<circle cx="83.4" cy="302" r="1.7" fill="#f4a024"/>
<circle cx="100.5" cy="263.6" r="1.7" fill="#f4a024"/>
<circle cx="150.1" cy="256.7" r="1.7" fill="#f4a024"/>
<circle cx="172.3" cy="250.4" r="1.7" fill="#f4a024"/>
<circle cx="188.7" cy="244.6" r="1.7" fill="#f4a024"/>
<circle cx="222.3" cy="244.6" r="1.7" fill="#f4a024"/>
<polyline points="68,301 83.4,303 100.5,281.3 150.1,273.6 172.3,269.8 188.7,271.3 222.3,268.8" fill="none" stroke="#2c4f84" stroke-width="1.55" stroke-linejoin="round"/>
<circle cx="68" cy="301" r="1.7" fill="#2c4f84"/>
<circle cx="83.4" cy="303" r="1.7" fill="#2c4f84"/>
<circle cx="100.5" cy="281.3" r="1.7" fill="#2c4f84"/>
<circle cx="150.1" cy="273.6" r="1.7" fill="#2c4f84"/>
<circle cx="172.3" cy="269.8" r="1.7" fill="#2c4f84"/>
<circle cx="188.7" cy="271.3" r="1.7" fill="#2c4f84"/>
<circle cx="222.3" cy="268.8" r="1.7" fill="#2c4f84"/>
<polyline points="68,302.3 83.4,305.8 100.5,283 150.1,270 172.3,269.8 188.7,267.5 222.3,262.5" fill="none" stroke="#b8173e" stroke-width="1.55" stroke-linejoin="round"/>
<circle cx="68" cy="302.3" r="1.7" fill="#b8173e"/>
<circle cx="83.4" cy="305.8" r="1.7" fill="#b8173e"/>
<circle cx="100.5" cy="283" r="1.7" fill="#b8173e"/>
<circle cx="150.1" cy="270" r="1.7" fill="#b8173e"/>
<circle cx="172.3" cy="269.8" r="1.7" fill="#b8173e"/>
<circle cx="188.7" cy="267.5" r="1.7" fill="#b8173e"/>
<circle cx="222.3" cy="262.5" r="1.7" fill="#b8173e"/>
<line x1="66.8" y1="320.2" x2="233.7" y2="320.2" stroke="#1e1e1e" stroke-width="1.4" />
<line x1="68" y1="320.2" x2="68" y2="323.5" stroke="#1e1e1e" stroke-width="1.2" />
<text x="68" y="334.09999999999997" font-size="8.2" text-anchor="middle" fill="#262626" stroke="#262626" stroke-width="0.08" font-weight="normal" >1</text>
<line x1="83.4" y1="320.2" x2="83.4" y2="323.5" stroke="#1e1e1e" stroke-width="1.2" />
<text x="83.4" y="334.09999999999997" font-size="8.2" text-anchor="middle" fill="#262626" stroke="#262626" stroke-width="0.08" font-weight="normal" >4</text>
<line x1="100.5" y1="320.2" x2="100.5" y2="323.5" stroke="#1e1e1e" stroke-width="1.2" />
<text x="100.5" y="334.09999999999997" font-size="8.2" text-anchor="middle" fill="#262626" stroke="#262626" stroke-width="0.08" font-weight="normal" >7</text>
<line x1="150.1" y1="320.2" x2="150.1" y2="323.5" stroke="#1e1e1e" stroke-width="1.2" />
<text x="150.1" y="334.09999999999997" font-size="8.2" text-anchor="middle" fill="#262626" stroke="#262626" stroke-width="0.08" font-weight="normal" >16</text>
<line x1="172.3" y1="320.2" x2="172.3" y2="323.5" stroke="#1e1e1e" stroke-width="1.2" />
<text x="172.3" y="334.09999999999997" font-size="8.2" text-anchor="middle" fill="#262626" stroke="#262626" stroke-width="0.08" font-weight="normal" >20</text>
<line x1="188.7" y1="320.2" x2="188.7" y2="323.5" stroke="#1e1e1e" stroke-width="1.2" />
<text x="188.7" y="334.09999999999997" font-size="8.2" text-anchor="middle" fill="#262626" stroke="#262626" stroke-width="0.08" font-weight="normal" >23</text>
<line x1="222.3" y1="320.2" x2="222.3" y2="323.5" stroke="#1e1e1e" stroke-width="1.2" />
<text x="222.3" y="334.09999999999997" font-size="8.2" text-anchor="middle" fill="#262626" stroke="#262626" stroke-width="0.08" font-weight="normal" >29</text>
<text x="150.5" y="346.9" font-size="9.9" text-anchor="middle" fill="#262626" stroke="#262626" stroke-width="0.3" font-weight="normal" textLength="51" lengthAdjust="spacingAndGlyphs" >Cycle (pre-dose)</text>
<text x="23.4" y="262.7" font-size="10.4" text-anchor="middle" fill="#262626" stroke="#262626" stroke-width="0.3" font-weight="normal" textLength="61.5" lengthAdjust="spacingAndGlyphs" transform="rotate(-90 23.4 262.7)">Absolute count ratio</text>
<text x="151.25" y="195" font-size="10.2" text-anchor="middle" fill="#262626" stroke="#262626" stroke-width="0.1" font-weight="normal" textLength="105" lengthAdjust="spacingAndGlyphs" >Ratio Normal / CLL cells</text>
<text x="7.2" y="194.4" font-size="12.3" text-anchor="start" fill="#111" stroke="#111" stroke-width="0.45" font-weight="bold" >C</text>
<rect x="318" y="285.2" width="165" height="20.400000000000034" fill="rgba(236,236,239,0.88)" />
<rect x="318" y="291.3" width="165" height="7.699999999999989" fill="rgba(200,200,206,0.25)" />
<line x1="318" y1="285.59999999999997" x2="483" y2="285.59999999999997" stroke="rgba(190,190,196,0.55)" stroke-width="0.8" />
<line x1="318" y1="305.20000000000005" x2="483" y2="305.20000000000005" stroke="rgba(190,190,196,0.55)" stroke-width="0.8" />
<line x1="319" y1="295.6" x2="483" y2="295.6" stroke="#c8c8cc" stroke-width="2.0" stroke-dasharray="1.3 1.9"/>
<line x1="318" y1="206" x2="318" y2="321.5" stroke="#1e1e1e" stroke-width="1.4" />
<line x1="314.5" y1="209.0" x2="318" y2="209.0" stroke="#1e1e1e" stroke-width="1.2" />
<text x="311.8" y="212.0" font-size="8.6" text-anchor="end" fill="#262626" stroke="#262626" stroke-width="0.08" font-weight="normal" >1,000,000</text>
<line x1="314.5" y1="221.36" x2="318" y2="221.36" stroke="#1e1e1e" stroke-width="1.2" />
<text x="311.8" y="224.36" font-size="8.6" text-anchor="end" fill="#262626" stroke="#262626" stroke-width="0.08" font-weight="normal" >100,000</text>
<line x1="314.5" y1="233.72" x2="318" y2="233.72" stroke="#1e1e1e" stroke-width="1.2" />
<text x="311.8" y="236.72" font-size="8.6" text-anchor="end" fill="#262626" stroke="#262626" stroke-width="0.08" font-weight="normal" >10,000</text>
<line x1="314.5" y1="246.08" x2="318" y2="246.08" stroke="#1e1e1e" stroke-width="1.2" />
<text x="311.8" y="249.08" font-size="8.6" text-anchor="end" fill="#262626" stroke="#262626" stroke-width="0.08" font-weight="normal" >1000</text>
<line x1="314.5" y1="258.44" x2="318" y2="258.44" stroke="#1e1e1e" stroke-width="1.2" />
<text x="311.8" y="261.44" font-size="8.6" text-anchor="end" fill="#262626" stroke="#262626" stroke-width="0.08" font-weight="normal" >100</text>
<line x1="314.5" y1="270.8" x2="318" y2="270.8" stroke="#1e1e1e" stroke-width="1.2" />
<text x="311.8" y="273.8" font-size="8.6" text-anchor="end" fill="#262626" stroke="#262626" stroke-width="0.08" font-weight="normal" >10</text>
<line x1="314.5" y1="283.16" x2="318" y2="283.16" stroke="#1e1e1e" stroke-width="1.2" />
<text x="311.8" y="286.16" font-size="8.6" text-anchor="end" fill="#262626" stroke="#262626" stroke-width="0.08" font-weight="normal" >1</text>
<line x1="314.5" y1="295.52" x2="318" y2="295.52" stroke="#1e1e1e" stroke-width="1.2" />
<text x="311.8" y="298.52" font-size="8.6" text-anchor="end" fill="#262626" stroke="#262626" stroke-width="0.08" font-weight="normal" >0.1</text>
<line x1="314.5" y1="307.88" x2="318" y2="307.88" stroke="#1e1e1e" stroke-width="1.2" />
<text x="311.8" y="310.88" font-size="8.6" text-anchor="end" fill="#262626" stroke="#262626" stroke-width="0.08" font-weight="normal" >0.01</text>
<line x1="314.5" y1="320.24" x2="318" y2="320.24" stroke="#1e1e1e" stroke-width="1.2" />
<text x="311.8" y="323.24" font-size="8.6" text-anchor="end" fill="#262626" stroke="#262626" stroke-width="0.08" font-weight="normal" >0.001</text>
<line x1="318.3" y1="221" x2="318.3" y2="234" stroke="#654221" stroke-width="1.0" />
<line x1="317.0" y1="221" x2="319.6" y2="221" stroke="#654221" stroke-width="1.0" />
<line x1="317.0" y1="234" x2="319.6" y2="234" stroke="#654221" stroke-width="1.0" />
<line x1="324.5" y1="253.5" x2="324.5" y2="281.7" stroke="#654221" stroke-width="1.0" />
<line x1="323.2" y1="253.5" x2="325.8" y2="253.5" stroke="#654221" stroke-width="1.0" />
<line x1="323.2" y1="281.7" x2="325.8" y2="281.7" stroke="#654221" stroke-width="1.0" />
<line x1="335.6" y1="263.8" x2="335.6" y2="291.3" stroke="#654221" stroke-width="1.0" />
<line x1="334.3" y1="263.8" x2="336.90000000000003" y2="263.8" stroke="#654221" stroke-width="1.0" />
<line x1="334.3" y1="291.3" x2="336.90000000000003" y2="291.3" stroke="#654221" stroke-width="1.0" />
<line x1="367.3" y1="260" x2="367.3" y2="296" stroke="#654221" stroke-width="1.0" />
<line x1="366.0" y1="260" x2="368.6" y2="260" stroke="#654221" stroke-width="1.0" />
<line x1="366.0" y1="296" x2="368.6" y2="296" stroke="#654221" stroke-width="1.0" />
<line x1="471.7" y1="257.9" x2="471.7" y2="289" stroke="#654221" stroke-width="1.0" />
<line x1="470.4" y1="257.9" x2="473.0" y2="257.9" stroke="#654221" stroke-width="1.0" />
<line x1="470.4" y1="289" x2="473.0" y2="289" stroke="#654221" stroke-width="1.0" />
<line x1="318.3" y1="220" x2="318.3" y2="228" stroke="#1c6655" stroke-width="1.0" />
<line x1="317.0" y1="220" x2="319.6" y2="220" stroke="#1c6655" stroke-width="1.0" />
<line x1="317.0" y1="228" x2="319.6" y2="228" stroke="#1c6655" stroke-width="1.0" />
<line x1="324.5" y1="222.5" x2="324.5" y2="235.6" stroke="#1c6655" stroke-width="1.0" />
<line x1="323.2" y1="222.5" x2="325.8" y2="222.5" stroke="#1c6655" stroke-width="1.0" />
<line x1="323.2" y1="235.6" x2="325.8" y2="235.6" stroke="#1c6655" stroke-width="1.0" />
<line x1="335.6" y1="223" x2="335.6" y2="243.5" stroke="#1c6655" stroke-width="1.0" />
<line x1="334.3" y1="223" x2="336.90000000000003" y2="223" stroke="#1c6655" stroke-width="1.0" />
<line x1="334.3" y1="243.5" x2="336.90000000000003" y2="243.5" stroke="#1c6655" stroke-width="1.0" />
<line x1="367.3" y1="286.5" x2="367.3" y2="298" stroke="#1c6655" stroke-width="1.0" />
<line x1="366.0" y1="286.5" x2="368.6" y2="286.5" stroke="#1c6655" stroke-width="1.0" />
<line x1="366.0" y1="298" x2="368.6" y2="298" stroke="#1c6655" stroke-width="1.0" />
<line x1="471.7" y1="289.6" x2="471.7" y2="298.7" stroke="#1c6655" stroke-width="1.0" />
<line x1="470.4" y1="289.6" x2="473.0" y2="289.6" stroke="#1c6655" stroke-width="1.0" />
<line x1="470.4" y1="298.7" x2="473.0" y2="298.7" stroke="#1c6655" stroke-width="1.0" />
<polyline points="318.3,228.75 324.5,268.3 335.6,278.8 367.3,288 471.7,264" fill="none" stroke="#654221" stroke-width="1.3" stroke-linejoin="round"/>
<circle cx="318.3" cy="228.75" r="1.7" fill="#654221"/>
<circle cx="324.5" cy="268.3" r="1.7" fill="#654221"/>
<circle cx="335.6" cy="278.8" r="1.7" fill="#654221"/>
<circle cx="367.3" cy="288" r="1.7" fill="#654221"/>
<circle cx="471.7" cy="264" r="1.7" fill="#654221"/>
<polyline points="318.3,223.5 324.5,225 335.6,229.75 367.3,291.3 471.7,293.8" fill="none" stroke="#1c6655" stroke-width="1.55" stroke-linejoin="round"/>
<circle cx="318.3" cy="223.5" r="1.7" fill="#1c6655"/>
<circle cx="324.5" cy="225" r="1.7" fill="#1c6655"/>
<circle cx="335.6" cy="229.75" r="1.7" fill="#1c6655"/>
<circle cx="367.3" cy="291.3" r="1.7" fill="#1c6655"/>
<circle cx="471.7" cy="293.8" r="1.7" fill="#1c6655"/>
<line x1="317.3" y1="320.8" x2="484.6" y2="320.8" stroke="#1e1e1e" stroke-width="1.4" />
<line x1="318.3" y1="320.8" x2="318.3" y2="324.1" stroke="#1e1e1e" stroke-width="1.2" />
<text x="318.3" y="334.7" font-size="8.2" text-anchor="middle" fill="#262626" stroke="#262626" stroke-width="0.08" font-weight="normal" >1</text>
<line x1="324.5" y1="320.8" x2="324.5" y2="324.1" stroke="#1e1e1e" stroke-width="1.2" />
<text x="324.5" y="334.7" font-size="8.2" text-anchor="middle" fill="#262626" stroke="#262626" stroke-width="0.08" font-weight="normal" >2</text>
<line x1="335.6" y1="320.8" x2="335.6" y2="324.1" stroke="#1e1e1e" stroke-width="1.2" />
<text x="335.6" y="334.7" font-size="8.2" text-anchor="middle" fill="#262626" stroke="#262626" stroke-width="0.08" font-weight="normal" >4</text>
<line x1="367.3" y1="320.8" x2="367.3" y2="324.1" stroke="#1e1e1e" stroke-width="1.2" />
<text x="367.3" y="334.7" font-size="8.2" text-anchor="middle" fill="#262626" stroke="#262626" stroke-width="0.08" font-weight="normal" >9/10</text>
<line x1="471.7" y1="320.8" x2="471.7" y2="324.1" stroke="#1e1e1e" stroke-width="1.2" />
<text x="471.7" y="334.7" font-size="8.2" text-anchor="middle" fill="#262626" stroke="#262626" stroke-width="0.08" font-weight="normal" >28</text>
<text x="401" y="348" font-size="9.9" text-anchor="middle" fill="#262626" stroke="#262626" stroke-width="0.3" font-weight="normal" textLength="50.5" lengthAdjust="spacingAndGlyphs" >Cycle (pre-dose)</text>
<text x="267.6" y="263.5" font-size="10.4" text-anchor="middle" fill="#262626" stroke="#262626" stroke-width="0.3" font-weight="normal" textLength="80.5" lengthAdjust="spacingAndGlyphs" transform="rotate(-90 267.6 263.5)">Absolute counts (cells/μL)</text>
<text x="401.35" y="200.2" font-size="10.2" text-anchor="middle" fill="#262626" stroke="#262626" stroke-width="0.1" font-weight="normal" textLength="40.3" lengthAdjust="spacingAndGlyphs" >CLL cells</text>
<text x="258.6" y="194.3" font-size="12.3" text-anchor="start" fill="#111" stroke="#111" stroke-width="0.45" font-weight="bold" >D</text>
<rect x="68" y="390.3" width="164" height="25.899999999999977" fill="rgba(236,236,239,0.88)" />
<rect x="68" y="396.3" width="164" height="6.699999999999989" fill="rgba(200,200,206,0.25)" />
<line x1="68" y1="390.7" x2="232" y2="390.7" stroke="rgba(190,190,196,0.55)" stroke-width="0.8" />
<line x1="68" y1="415.8" x2="232" y2="415.8" stroke="rgba(190,190,196,0.55)" stroke-width="0.8" />
<line x1="69" y1="399.6" x2="232" y2="399.6" stroke="#c8c8cc" stroke-width="2.0" stroke-dasharray="1.3 1.9"/>
<line x1="67" y1="383" x2="67" y2="498.7" stroke="#1e1e1e" stroke-width="1.4" />
<line x1="63.5" y1="387.0" x2="67" y2="387.0" stroke="#1e1e1e" stroke-width="1.2" />
<text x="60.8" y="390.0" font-size="8.6" text-anchor="end" fill="#262626" stroke="#262626" stroke-width="0.08" font-weight="normal" >1000</text>
<line x1="63.5" y1="405.55" x2="67" y2="405.55" stroke="#1e1e1e" stroke-width="1.2" />
<text x="60.8" y="408.55" font-size="8.6" text-anchor="end" fill="#262626" stroke="#262626" stroke-width="0.08" font-weight="normal" >100</text>
<line x1="63.5" y1="424.1" x2="67" y2="424.1" stroke="#1e1e1e" stroke-width="1.2" />
<text x="60.8" y="427.1" font-size="8.6" text-anchor="end" fill="#262626" stroke="#262626" stroke-width="0.08" font-weight="normal" >10</text>
<line x1="63.5" y1="442.65" x2="67" y2="442.65" stroke="#1e1e1e" stroke-width="1.2" />
<text x="60.8" y="445.65" font-size="8.6" text-anchor="end" fill="#262626" stroke="#262626" stroke-width="0.08" font-weight="normal" >1</text>
<line x1="63.5" y1="461.2" x2="67" y2="461.2" stroke="#1e1e1e" stroke-width="1.2" />
<text x="60.8" y="464.2" font-size="8.6" text-anchor="end" fill="#262626" stroke="#262626" stroke-width="0.08" font-weight="normal" >0.1</text>
<line x1="63.5" y1="479.75" x2="67" y2="479.75" stroke="#1e1e1e" stroke-width="1.2" />
<text x="60.8" y="482.75" font-size="8.6" text-anchor="end" fill="#262626" stroke="#262626" stroke-width="0.08" font-weight="normal" >0.01</text>
<line x1="63.5" y1="498.3" x2="67" y2="498.3" stroke="#1e1e1e" stroke-width="1.2" />
<text x="60.8" y="501.3" font-size="8.6" text-anchor="end" fill="#262626" stroke="#262626" stroke-width="0.08" font-weight="normal" >0.001</text>
<line x1="67.5" y1="418" x2="67.5" y2="430" stroke="#654221" stroke-width="1.0" />
<line x1="66.2" y1="418" x2="68.8" y2="418" stroke="#654221" stroke-width="1.0" />
<line x1="66.2" y1="430" x2="68.8" y2="430" stroke="#654221" stroke-width="1.0" />
<line x1="73.1" y1="478" x2="73.1" y2="482" stroke="#654221" stroke-width="1.0" />
<line x1="71.8" y1="478" x2="74.39999999999999" y2="478" stroke="#654221" stroke-width="1.0" />
<line x1="71.8" y1="482" x2="74.39999999999999" y2="482" stroke="#654221" stroke-width="1.0" />
<line x1="85" y1="478" x2="85" y2="482" stroke="#654221" stroke-width="1.0" />
<line x1="83.7" y1="478" x2="86.3" y2="478" stroke="#654221" stroke-width="1.0" />
<line x1="83.7" y1="482" x2="86.3" y2="482" stroke="#654221" stroke-width="1.0" />
<line x1="116.25" y1="475" x2="116.25" y2="491" stroke="#654221" stroke-width="1.0" />
<line x1="114.95" y1="475" x2="117.55" y2="475" stroke="#654221" stroke-width="1.0" />
<line x1="114.95" y1="491" x2="117.55" y2="491" stroke="#654221" stroke-width="1.0" />
<line x1="221" y1="417.8" x2="221" y2="481" stroke="#654221" stroke-width="1.0" />
<line x1="219.7" y1="417.8" x2="222.3" y2="417.8" stroke="#654221" stroke-width="1.0" />
<line x1="219.7" y1="481" x2="222.3" y2="481" stroke="#654221" stroke-width="1.0" />
<line x1="67.5" y1="409.9" x2="67.5" y2="417.6" stroke="#1c6655" stroke-width="1.0" />
<line x1="66.2" y1="409.9" x2="68.8" y2="409.9" stroke="#1c6655" stroke-width="1.0" />
<line x1="66.2" y1="417.6" x2="68.8" y2="417.6" stroke="#1c6655" stroke-width="1.0" />
<line x1="73.1" y1="414.2" x2="73.1" y2="429.1" stroke="#1c6655" stroke-width="1.0" />
<line x1="71.8" y1="414.2" x2="74.39999999999999" y2="414.2" stroke="#1c6655" stroke-width="1.0" />
<line x1="71.8" y1="429.1" x2="74.39999999999999" y2="429.1" stroke="#1c6655" stroke-width="1.0" />
<line x1="85" y1="420.5" x2="85" y2="428.2" stroke="#1c6655" stroke-width="1.0" />
<line x1="83.7" y1="420.5" x2="86.3" y2="420.5" stroke="#1c6655" stroke-width="1.0" />
<line x1="83.7" y1="428.2" x2="86.3" y2="428.2" stroke="#1c6655" stroke-width="1.0" />
<line x1="116.25" y1="443.75" x2="116.25" y2="476.25" stroke="#1c6655" stroke-width="1.0" />
<line x1="114.95" y1="443.75" x2="117.55" y2="443.75" stroke="#1c6655" stroke-width="1.0" />
<line x1="114.95" y1="476.25" x2="117.55" y2="476.25" stroke="#1c6655" stroke-width="1.0" />
<line x1="221" y1="399.9" x2="221" y2="413.3" stroke="#1c6655" stroke-width="1.0" />
<line x1="219.7" y1="399.9" x2="222.3" y2="399.9" stroke="#1c6655" stroke-width="1.0" />
<line x1="219.7" y1="413.3" x2="222.3" y2="413.3" stroke="#1c6655" stroke-width="1.0" />
<polyline points="67.5,422.9 73.1,480 85,480 116.25,480 221,427.3" fill="none" stroke="#654221" stroke-width="1.3" stroke-linejoin="round"/>
<circle cx="67.5" cy="422.9" r="1.7" fill="#654221"/>
<circle cx="73.1" cy="480" r="1.7" fill="#654221"/>
<circle cx="85" cy="480" r="1.7" fill="#654221"/>
<circle cx="116.25" cy="480" r="1.7" fill="#654221"/>
<circle cx="221" cy="427.3" r="1.7" fill="#654221"/>
<polyline points="67.5,413.75 73.1,419.5 85,421.9 116.25,451.25 221,406.7" fill="none" stroke="#1c6655" stroke-width="1.55" stroke-linejoin="round"/>
<circle cx="67.5" cy="413.75" r="1.7" fill="#1c6655"/>
<circle cx="73.1" cy="419.5" r="1.7" fill="#1c6655"/>
<circle cx="85" cy="421.9" r="1.7" fill="#1c6655"/>
<circle cx="116.25" cy="451.25" r="1.7" fill="#1c6655"/>
<circle cx="221" cy="406.7" r="1.7" fill="#1c6655"/>
<line x1="66.3" y1="498" x2="233.6" y2="498" stroke="#1e1e1e" stroke-width="1.4" />
<line x1="67" y1="498" x2="67" y2="501.3" stroke="#1e1e1e" stroke-width="1.2" />
<text x="67" y="511.9" font-size="8.2" text-anchor="middle" fill="#262626" stroke="#262626" stroke-width="0.08" font-weight="normal" >1</text>
<line x1="73.1" y1="498" x2="73.1" y2="501.3" stroke="#1e1e1e" stroke-width="1.2" />
<text x="73.1" y="511.9" font-size="8.2" text-anchor="middle" fill="#262626" stroke="#262626" stroke-width="0.08" font-weight="normal" >2</text>
<line x1="85" y1="498" x2="85" y2="501.3" stroke="#1e1e1e" stroke-width="1.2" />
<text x="85" y="511.9" font-size="8.2" text-anchor="middle" fill="#262626" stroke="#262626" stroke-width="0.08" font-weight="normal" >4</text>
<line x1="116.25" y1="498" x2="116.25" y2="501.3" stroke="#1e1e1e" stroke-width="1.2" />
<text x="116.25" y="511.9" font-size="8.2" text-anchor="middle" fill="#262626" stroke="#262626" stroke-width="0.08" font-weight="normal" >9/10</text>
<line x1="221" y1="498" x2="221" y2="501.3" stroke="#1e1e1e" stroke-width="1.2" />
<text x="221" y="511.9" font-size="8.2" text-anchor="middle" fill="#262626" stroke="#262626" stroke-width="0.08" font-weight="normal" >28</text>
<text x="150.3" y="525.5" font-size="9.9" text-anchor="middle" fill="#262626" stroke="#262626" stroke-width="0.3" font-weight="normal" textLength="51.4" lengthAdjust="spacingAndGlyphs" >Cycle (pre-dose)</text>
<text x="35.4" y="441" font-size="10.4" text-anchor="middle" fill="#262626" stroke="#262626" stroke-width="0.3" font-weight="normal" textLength="80" lengthAdjust="spacingAndGlyphs" transform="rotate(-90 35.4 441)">Absolute counts (cells/μL)</text>
<text x="150.95" y="378.3" font-size="10.2" text-anchor="middle" fill="#262626" stroke="#262626" stroke-width="0.1" font-weight="normal" textLength="62.7" lengthAdjust="spacingAndGlyphs" >Normal B cells</text>
<text x="7.4" y="377.3" font-size="12.3" text-anchor="start" fill="#111" stroke="#111" stroke-width="0.45" font-weight="bold" >E</text>
<rect x="279.8" y="398.7" width="14" height="7.6" fill="rgba(150,150,160,0.25)" />
<line x1="280.5" y1="402.5" x2="293.5" y2="402.5" stroke="#c8c8cc" stroke-width="1.3" stroke-dasharray="1.6 1.6"/>
<text x="297.5" y="405.2" font-size="8.1" text-anchor="start" fill="#262626" stroke="#262626" stroke-width="0.08" font-weight="normal" textLength="165.8" lengthAdjust="spacingAndGlyphs" >Healthy Donors (<tspan font-style="italic">n</tspan> = 20): median, IQR, and range</text>
<line x1="280.8" y1="417.4" x2="293.3" y2="417.4" stroke="#374558" stroke-width="1.3" />
<circle cx="287" cy="417.4" r="1.6" fill="#374558"/>
<text x="297.5" y="420.29999999999995" font-size="8.1" text-anchor="start" fill="#262626" stroke="#262626" stroke-width="0.08" font-weight="normal" textLength="120.2" lengthAdjust="spacingAndGlyphs" >Confirmed uMRD; Placebo (<tspan font-style="italic">n</tspan> = 20)</text>
<line x1="280.8" y1="429.96" x2="293.3" y2="429.96" stroke="#f4a024" stroke-width="1.3" />
<circle cx="287" cy="429.96" r="1.6" fill="#f4a024"/>
<text x="297.5" y="432.85999999999996" font-size="8.1" text-anchor="start" fill="#262626" stroke="#262626" stroke-width="0.08" font-weight="normal" textLength="101.7" lengthAdjust="spacingAndGlyphs" >Confirmed uMRD; Ibr (<tspan font-style="italic">n</tspan> = 20)</text>
<line x1="280.8" y1="442.52" x2="293.3" y2="442.52" stroke="#b8173e" stroke-width="1.3" />
<circle cx="287" cy="442.52" r="1.6" fill="#b8173e"/>
<text x="297.5" y="445.41999999999996" font-size="8.1" text-anchor="start" fill="#262626" stroke="#262626" stroke-width="0.08" font-weight="normal" textLength="115.8" lengthAdjust="spacingAndGlyphs" >uMRD Not Confirmed; Ibr (<tspan font-style="italic">n</tspan> = 20)</text>
<line x1="280.8" y1="455.08" x2="293.3" y2="455.08" stroke="#2c4f84" stroke-width="1.3" />
<circle cx="287" cy="455.08" r="1.6" fill="#2c4f84"/>
<text x="297.5" y="457.97999999999996" font-size="8.1" text-anchor="start" fill="#262626" stroke="#262626" stroke-width="0.08" font-weight="normal" textLength="119.6" lengthAdjust="spacingAndGlyphs" >uMRD Not Confirmed; I+V (<tspan font-style="italic">n</tspan> = 19)</text>
<line x1="280.8" y1="467.64" x2="293.3" y2="467.64" stroke="#1c6655" stroke-width="1.3" />
<circle cx="287" cy="467.64" r="1.6" fill="#1c6655"/>
<text x="297.5" y="470.53999999999996" font-size="8.1" text-anchor="start" fill="#262626" stroke="#262626" stroke-width="0.08" font-weight="normal" textLength="69.8" lengthAdjust="spacingAndGlyphs" >GLOW; I+V (n = 12)</text>
<line x1="280.8" y1="480.2" x2="293.3" y2="480.2" stroke="#654221" stroke-width="1.3" />
<circle cx="287" cy="480.2" r="1.6" fill="#654221"/>
<text x="297.5" y="483.09999999999997" font-size="8.1" text-anchor="start" fill="#262626" stroke="#262626" stroke-width="0.08" font-weight="normal" textLength="74.8" lengthAdjust="spacingAndGlyphs" >GLOW; C+O (n = 12)</text>
<rect x="0" y="0" width="520" height="1.1" fill="#3a3a3a" />
<rect x="0" y="0" width="1.15" height="536" fill="#4a4a4a" />
<rect x="518.9" y="0" width="1.1" height="536" fill="#333333" />
<rect x="0" y="534.6" width="520" height="1.4" fill="#333333" />
</svg>
</body></html>
